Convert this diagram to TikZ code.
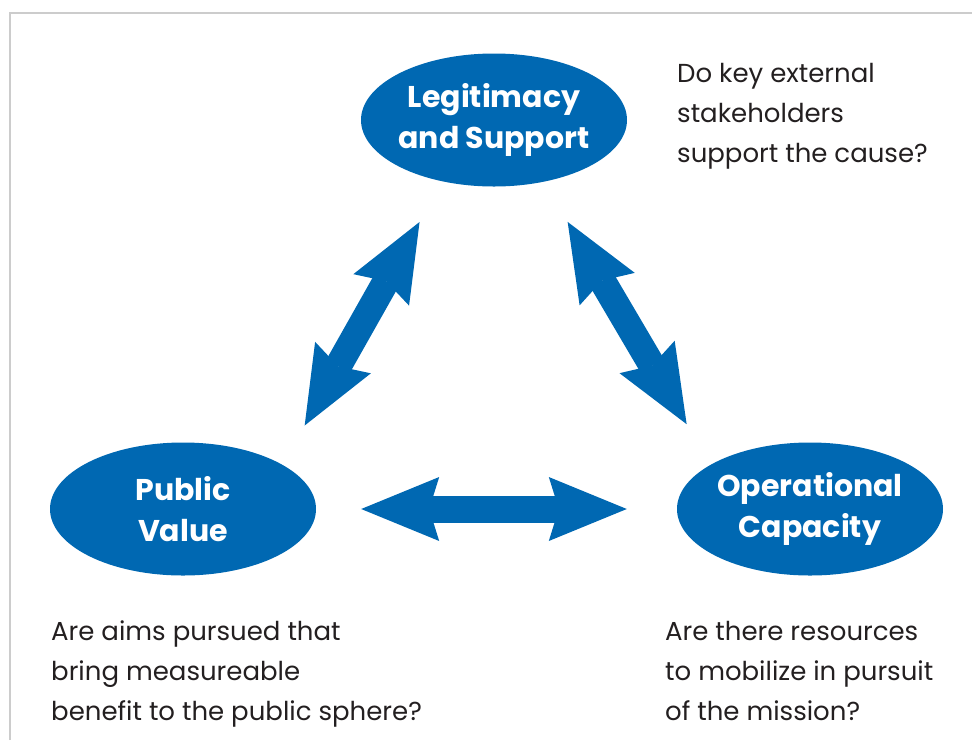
\documentclass[tikz,border=0pt]{standalone}
\usepackage{fontspec}
\setmainfont{Poppins}
\usepackage{tikz}
\usetikzlibrary{arrows.meta,positioning,shapes.geometric}
\definecolor{cBlue}{HTML}{0068B2}
\definecolor{cInk}{HTML}{231F20}
\definecolor{cFrame}{HTML}{CCCCCC}
\tikzset{
  pillar/.style={ellipse,fill=cBlue,draw=none,minimum width=266pt,minimum height=133pt,inner sep=0pt,inner xsep=-20pt,
    align=center,text=white,font=\fontsize{30}{41}\selectfont\bfseries},
  twoway/.style={{Stealth[length=78pt,width=64pt,inset=10pt,line width=0pt]}-{Stealth[length=78pt,width=64pt,inset=10pt,line width=0pt]},
    line width=27pt,color=cBlue},
  question/.style={align=left,text=cInk,inner sep=0pt,font=\fontsize{26}{40}\selectfont},
}

\begin{document}
\begin{tikzpicture}[x=1pt,y=-1pt]
  \useasboundingbox (0,0) rectangle (972,740);
  % frame, only its top and left side are in view
  \draw[cFrame,line width=2pt] (9.5,740) -- (9.5,12.5) -- (972,12.5);

  \node[pillar] (lg) at (494,120) {Legitimacy\\and Support};
  \node[pillar] (pv) at (183,509) {Public\\Value};
  \node[pillar] (oc) at (810,509) {Operational\\Capacity};

  \draw[twoway,shorten <=45pt,shorten >=46.5pt] (pv.24.8) -- (lg.230.5);
  \draw[twoway,shorten <=46.5pt,shorten >=47pt] (lg.309.5) -- (oc.156.9);
  \draw[twoway,shorten <=45pt,shorten >=50pt] (pv.east) -- (oc.west);

  % base anchor sits on the last line
  \node[question,anchor=base west] (qlg) at (677,162) {Do key external\\stakeholders\\support the cause?};
  \node[question,anchor=base west] (qpv) at (51,720) {Are aims pursued that\\bring measureable\\benefit to the public sphere?};
  \node[question,anchor=base west] (qoc) at (665,720) {Are there resources\\to mobilize in pursuit\\of the mission?};
\end{tikzpicture}
\end{document}
